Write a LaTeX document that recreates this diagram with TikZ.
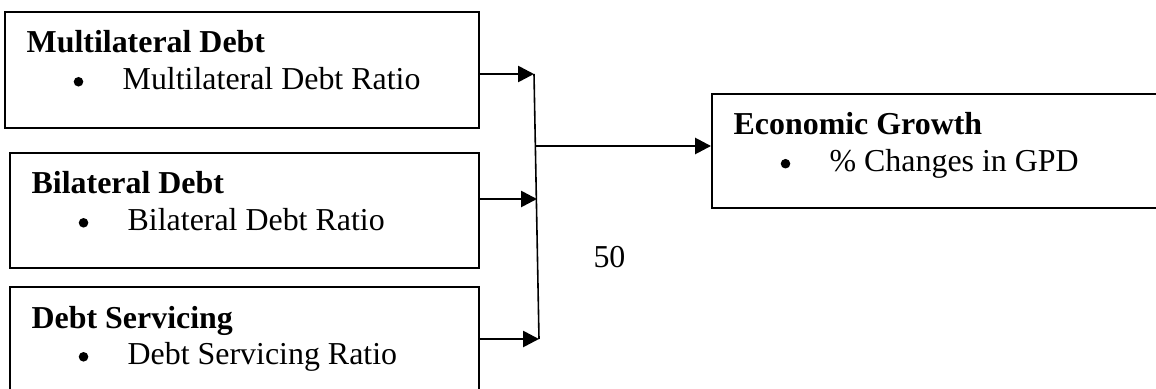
\documentclass[tikz,border=0pt]{standalone}
\usepackage{fontspec}
\setmainfont{Liberation Serif}
\usetikzlibrary{positioning,arrows.meta}
\newcommand\bitem[1]{\makebox[18.6pt][l]{\tikz[baseline=0pt,x=1pt,y=1pt]{\path (0,0); \fill (2,3) circle[radius=1.8];}}#1}
\tikzset{debtbox/.style={
  shape=rectangle,
  draw=black,
  line width=0.75pt,
  minimum width=176.3pt,
  minimum height=43.2pt,
  inner sep=0pt,
  }
}
\tikzset{boxhead/.style={
  font=\fontsize{12}{14}\selectfont\bfseries,
  inner sep=0pt,
  }
}
\tikzset{boxitem/.style={
  font=\fontsize{12}{14}\selectfont,
  inner sep=0pt,
  }
}
\tikzset{flow/.style={
  line width=1pt,
  -{Triangle[length=6pt,width=6pt]},
  }
}

\begin{document}
\begin{tikzpicture}[x=0.376pt,y=-0.376pt]
  \useasboundingbox (0,0) rectangle (1156,389);

  \node [debtbox, minimum width=178.2pt, minimum height=43.6pt] (d1) at (242,70) { };
  \node [debtbox] (d2) at (244.5,210.5) { };
  \node [debtbox] (d3) at (244.5,344.5) { };
  \node [debtbox, minimum width=170.3pt, minimum height=42.9pt] (g1) at (938.5,151) { };

  \node [boxhead, below right=15.6pt and 8.3pt of d1.north west, anchor=base west] (d1h) {Multilateral Debt};
  \node [boxitem, below right=29.6pt and 25.8pt of d1.north west, anchor=base west] (d1i) {\bitem{Multilateral Debt Ratio}};
  \node [boxhead, below right=15.6pt and 8.3pt of d2.north west, anchor=base west] (d2h) {Bilateral Debt};
  \node [boxitem, below right=29.6pt and 25.8pt of d2.north west, anchor=base west] (d2i) {\bitem{Bilateral Debt Ratio}};
  \node [boxhead, below right=15.8pt and 8.3pt of d3.north west, anchor=base west] (d3h) {Debt Servicing};
  \node [boxitem, below right=29.6pt and 25.8pt of d3.north west, anchor=base west] (d3i) {\bitem{Debt Servicing Ratio}};
  \node [boxhead, below right=15.6pt and 8.3pt of g1.north west, anchor=base west] (g1h) {Economic Growth};
  \node [boxitem, below right=29.6pt and 25.8pt of g1.north west, anchor=base west] (g1i) {\bitem{\% Changes in GPD}};

  \node [boxitem, anchor=base west] (pg) at (593,267) {50};

  \coordinate (j1) at (534,74);
  \coordinate (j2) at (537,199);
  \coordinate (j3) at (539,339);
  \coordinate (jm) at (536,146);

  \draw [line width=0.6pt] (j1) -- (j3);
  \draw [flow] (d1.east |- j1) -- (j1);
  \draw [flow] (d2.east |- j2) -- (j2);
  \draw [flow] (d3.east |- j3) -- (j3);
  \draw [flow] (jm) -- (g1.west |- jm);
\end{tikzpicture}
\end{document}
